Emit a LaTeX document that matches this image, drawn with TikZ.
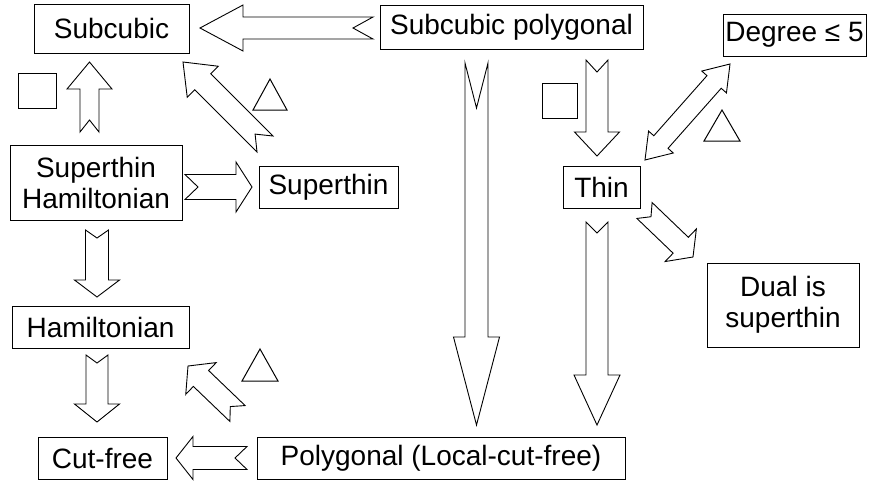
\documentclass[tikz,border=0pt]{standalone}
\usepackage{fontspec}
\setmainfont{Liberation Sans}
\usetikzlibrary{calc,positioning}

\newcommand{\blockarrow}[6]{%
  \draw[fat] ($(#1)!#3pt!90:(#2)$) -- ($(#2)!#5pt!(#1)!#3pt!90:(#2)$) -- ($(#2)!#5pt!(#1)!#4pt!90:(#2)$) -- (#2)
    -- ($(#2)!#5pt!(#1)!#4pt!-90:(#2)$) -- ($(#2)!#5pt!(#1)!#3pt!-90:(#2)$) -- ($(#1)!#3pt!-90:(#2)$) -- ($(#1)!#6pt!(#2)$) -- cycle;}
\newcommand{\twowayarrow}[5]{%
  \draw[fat] (#1) -- ($(#1)!#5pt!(#2)!#4pt!90:(#2)$) -- ($(#1)!#5pt!(#2)!#3pt!90:(#2)$) -- ($(#2)!#5pt!(#1)!#3pt!90:(#2)$) -- ($(#2)!#5pt!(#1)!#4pt!90:(#2)$) -- (#2)
    -- ($(#2)!#5pt!(#1)!#4pt!-90:(#2)$) -- ($(#2)!#5pt!(#1)!#3pt!-90:(#2)$) -- ($(#1)!#5pt!(#2)!#3pt!-90:(#2)$) -- ($(#1)!#5pt!(#2)!#4pt!-90:(#2)$) -- cycle;}

\begin{document}
\begin{tikzpicture}[x=1pt,y=-1pt,
    box/.style={rectangle, draw, line width=1pt, inner sep=0pt, align=center, font=\fontsize{28}{31}\selectfont},
    fat/.style={draw, line width=0.9pt, fill=white, line join=miter},
    sign/.style={draw, line width=1pt}]
    \useasboundingbox (0,0) rectangle (873,483);
    \node(subcubic) [box, minimum width=155, minimum height=49] at (111.5,28.5) {Subcubic};
    \node(subpoly) [box, minimum width=263, minimum height=44] at (511.5,27) {Subcubic polygonal};
    \node(degree) [box, minimum width=143, minimum height=42] at (794.5,35) {Degree ≤ 5};
    \node(superham) [box, minimum width=172, minimum height=75] at (96,182.5) {Superthin\\Hamiltonian};
    \node(superthin) [box, minimum width=139, minimum height=42] at (328.5,187) {Superthin};
    \node(thin) [box, minimum width=77, minimum height=42] at (601.5,187) {Thin};
    \node(dual) [box, minimum width=152, minimum height=84] at (783,305) {Dual is\\superthin};
    \node(ham) [box, minimum width=177, minimum height=42] at (100.5,327) {Hamiltonian};
    \node(cutfree) [box, minimum width=129, minimum height=42] at (102.5,458) {Cut-free};
    \node(poly) [box, minimum width=368, minimum height=42] at (441,458) {Polygonal (Local-cut-free)};

    \coordinate(subpoly-out) at (373,28);   \coordinate(subcubic-in) at (200,28);
    \coordinate(superham-up) at (89.5,132); \coordinate(subcubic-up) at (89.5,62);
    \coordinate(superthin-out) at (265,144); \coordinate(subcubic-diag) at (183,62);
    \coordinate(superham-out) at (185,187); \coordinate(superthin-in) at (252,187);
    \coordinate(superham-down) at (97,230); \coordinate(ham-in) at (97,297);
    \coordinate(ham-out) at (97,355);       \coordinate(cutfree-up) at (97,422);
    \coordinate(poly-out) at (247,458);     \coordinate(cutfree-in) at (176,458);
    \coordinate(poly-diag) at (237.5,413.5); \coordinate(ham-diag) at (188,366);
    \coordinate(subpoly-down) at (476.5,63); \coordinate(poly-in) at (476.5,425);
    \coordinate(subpoly-thin) at (597,60);  \coordinate(thin-in) at (597,156);
    \coordinate(thin-down) at (597,222);    \coordinate(poly-in2) at (597,425);
    \coordinate(thin-out) at (644.5,210.5); \coordinate(dual-in) at (693,257);
    \coordinate(thin-up) at (645,160);      \coordinate(degree-in) at (730,64);

    \blockarrow{subpoly-out}{subcubic-in}{11}{23}{43}{20}
    \blockarrow{superham-up}{subcubic-up}{9.5}{22.5}{27}{12}
    \blockarrow{superthin-out}{subcubic-diag}{11.3}{22}{28}{14}
    \blockarrow{superham-out}{superthin-in}{12.5}{25}{16}{13}
    \blockarrow{superham-down}{ham-in}{11.5}{22.5}{17}{8}
    \blockarrow{ham-out}{cutfree-up}{11}{22.5}{18}{8}
    \blockarrow{poly-out}{cutfree-in}{11.5}{21.5}{17}{12}
    \blockarrow{poly-diag}{ham-diag}{11}{22}{18}{10}
    \blockarrow{subpoly-down}{poly-in}{11.5}{23}{88}{45}
    \blockarrow{subpoly-thin}{thin-in}{11}{22.5}{24}{12}
    \blockarrow{thin-down}{poly-in2}{11}{23}{50}{11}
    \blockarrow{thin-out}{dual-in}{11}{22.6}{17}{9}
    \twowayarrow{thin-up}{degree-in}{9.5}{16.5}{24}

    \draw[sign] (18,73) rectangle (56,108);
    \draw[sign] (542,83) rectangle (577,118);
    \draw[sign] (270,79) -- (287,110) -- (253,110) -- cycle;
    \draw[sign] (722,110) -- (740,141) -- (704,141) -- cycle;
    \draw[sign] (260,349) -- (278,381) -- (242,381) -- cycle;
\end{tikzpicture}
\end{document}
